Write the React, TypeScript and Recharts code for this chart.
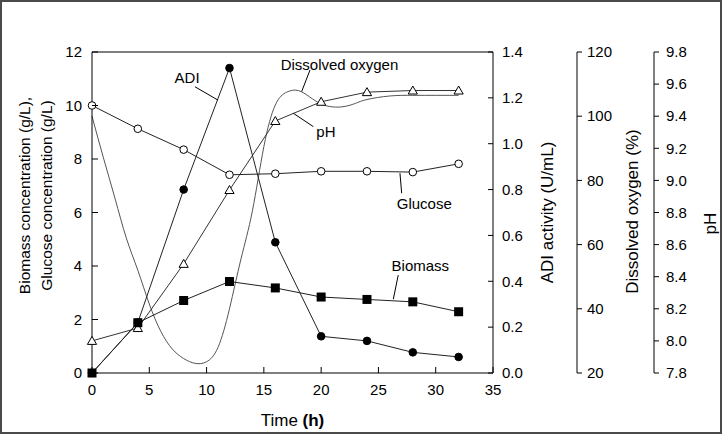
import React from "react";
import { LineChart, Line, XAxis, YAxis, ReferenceLine, ReferenceDot } from "recharts";

// sampling times (h) and measured series
const times = [0, 4, 8, 12, 16, 20, 24, 28, 32];
const biomass = [0, 1.88, 2.71, 3.42, 3.18, 2.84, 2.75, 2.66, 2.29];
const glucose = [10.0, 9.13, 8.35, 7.41, 7.45, 7.54, 7.54, 7.51, 7.82];
const adi = [0, 0.22, 0.8, 1.33, 0.57, 0.16, 0.14, 0.09, 0.07];
const ph = [8.0, 8.08, 8.48, 8.94, 9.37, 9.49, 9.55, 9.56, 9.56];

// online dissolved oxygen trace
const doTimes = [0, 1, 2, 3, 4, 5, 6, 7, 8, 9, 10, 11, 12, 13, 14, 15, 16, 17, 18, 19, 20, 21, 22, 23, 24, 26, 28, 30, 32];
const doValues = [100, 87, 74.5, 62, 52, 41.5, 33, 27.5, 24.5, 23, 23.5, 28, 40, 55.5, 70.5, 90.5, 103.5, 107.5, 108, 106, 103.8, 102.9, 103, 104, 105.2, 106.3, 106.5, 106.5, 106.5];

const timeTicks = [0, 5, 10, 15, 20, 25, 30, 35];
const leftTicks = [0, 2, 4, 6, 8, 10, 12];
const adiTicks = [0, 0.2, 0.4, 0.6, 0.8, 1.0, 1.2, 1.4];
const doTicks = [20, 40, 60, 80, 100, 120];
const phTicks = [7.8, 8.0, 8.2, 8.4, 8.6, 8.8, 9.0, 9.2, 9.4, 9.6, 9.8];

// series names written on the plot, anchored in (time, g/L) units
const callouts = [
  { text: "ADI", x: 8.3, y: 11.03, from: [8.99, 10.7], to: [11.0, 10.2] },
  { text: "Dissolved oxygen", x: 21.6, y: 11.51, from: [19.03, 11.33], to: [18.3, 10.52] },
  { text: "pH", x: 20.42, y: 9.02, from: [19.32, 9.21], to: [17.57, 9.71] },
  { text: "Glucose", x: 29.0, y: 6.34, from: [27.03, 6.72], to: [26.88, 7.47] },
  { text: "Biomass", x: 28.66, y: 4.0, from: [26.73, 3.66], to: [26.3, 2.76] },
];

const FONT = "'Liberation Sans', Arial, Helvetica, sans-serif";

const sampleRows = times.map((t, i) => ({
  t,
  biomass: biomass[i],
  glucose: glucose[i],
  adi: adi[i],
  ph: ph[i],
}));
const doRows = doTimes.map((t, i) => ({ t, dox: doValues[i] }));

type Side = "left" | "right-in" | "right-out" | "bottom";

function makeTick(side: Side, len: number, gap: number, fmt: (v: number) => string) {
  return (p: any) => {
    const { x, y, payload } = p;
    const label = fmt(payload.value);
    const txt = { fontFamily: FONT, fontSize: 15, fill: "#000" };
    if (side === "bottom") {
      return (
        <g>
          <line x1={x} y1={y} x2={x} y2={y - len} stroke="#000" />
          <text x={x} y={y + gap} textAnchor="middle" dy="0.35em" {...txt}>{label}</text>
        </g>
      );
    }
    if (side === "left") {
      return (
        <g>
          <line x1={x} y1={y} x2={x + len} y2={y} stroke="#000" />
          <text x={x - gap} y={y} textAnchor="end" dy="0.35em" {...txt}>{label}</text>
        </g>
      );
    }
    const dir = side === "right-in" ? -1 : 1;
    return (
      <g>
        <line x1={x} y1={y} x2={x + dir * len} y2={y} stroke="#000" />
        <text x={x + gap} y={y} textAnchor="start" dy="0.35em" {...txt}>{label}</text>
      </g>
    );
  };
}

const vTitle = (lines: string[], dx: number[], dyCenter: number, size: number) => (p: any) => {
  const vb = p.viewBox || {};
  const cy = vb.y + vb.height / 2 + dyCenter;
  return (
    <g>
      {lines.map((s, i) => {
        const cx = vb.x + dx[i];
        return (
          <text
            key={s}
            x={cx}
            y={cy}
            transform={`rotate(-90 ${cx} ${cy})`}
            textAnchor="middle"
            dy="0.35em"
            fontFamily={FONT}
            fontSize={size}
            fill="#000"
          >
            {s}
          </text>
        );
      })}
    </g>
  );
};

const timeTitle = (p: any) => {
  const vb = p.viewBox || {};
  return (
    <text
      x={vb.x + vb.width / 2}
      y={vb.y + 47}
      textAnchor="middle"
      dy="0.35em"
      fontFamily={FONT}
      fontSize={17}
      fill="#000"
    >
      Time <tspan fontWeight="bold">(h)</tspan>
    </text>
  );
};

const squareDot = (p: any) => (
  <rect key={`s${p.index}`} x={p.cx - 4.5} y={p.cy - 4.5} width={9} height={9} fill="#000" />
);
const triangleDot = (p: any) => (
  <polygon
    key={`t${p.index}`}
    points={`${p.cx},${p.cy - 4.5} ${p.cx - 4.6},${p.cy + 3.5} ${p.cx + 4.6},${p.cy + 3.5}`}
    fill="#fff"
    stroke="#000"
    strokeWidth={1}
  />
);

export default function App() {
  return (
    <div style={{ position: "absolute", left: 0, top: 0, width: 722, height: 434, background: "#fff" }}>
      <LineChart
        width={722}
        height={434}
        data={sampleRows}
        margin={{ top: 52, right: 0, bottom: 0, left: 0 }}
      >
        <XAxis
          dataKey="t"
          type="number"
          domain={[0, 35]}
          ticks={timeTicks}
          height={61}
          tickSize={0}
          tickMargin={0}
          tickLine={false}
          axisLine={{ stroke: "#000" }}
          tick={makeTick("bottom", 6, 17, (v) => String(v))}
          label={timeTitle}
        />
        <YAxis
          yAxisId="left"
          domain={[0, 12]}
          ticks={leftTicks}
          width={92}
          tickSize={0}
          tickMargin={0}
          tickLine={false}
          axisLine={{ stroke: "#000" }}
          tick={makeTick("left", 6, 10, (v) => String(v))}
          label={vTitle(["Biomass concentration (g/L),", "Glucose concentration (g/L)"], [25, 47], -17, 15.5)}
        />
        <YAxis
          yAxisId="adi"
          orientation="right"
          domain={[0, 1.4]}
          ticks={adiTicks}
          width={84}
          tickSize={0}
          tickMargin={0}
          tickLine={false}
          axisLine={{ stroke: "#000" }}
          tick={makeTick("right-in", 5, 9, (v) => v.toFixed(1))}
          label={vTitle(["ADI activity (U/mL)"], [54], 0, 17)}
        />
        <YAxis
          yAxisId="do"
          orientation="right"
          domain={[20, 120]}
          ticks={doTicks}
          width={77}
          tickSize={0}
          tickMargin={0}
          tickLine={false}
          axisLine={{ stroke: "#000" }}
          tick={makeTick("right-out", 5, 10, (v) => String(v))}
          label={vTitle(["Dissolved oxygen (%)"], [55], -1, 17)}
        />
        <YAxis
          yAxisId="ph"
          orientation="right"
          domain={[7.8, 9.8]}
          ticks={phTicks}
          width={68}
          tickSize={0}
          tickMargin={0}
          tickLine={false}
          axisLine={{ stroke: "#000" }}
          tick={makeTick("right-out", 5, 12, (v) => v.toFixed(1))}
          label={vTitle(["pH"], [56], 11, 17)}
        />

        <ReferenceLine yAxisId="left" y={12} stroke="#000" />

        <Line
          data={doRows}
          yAxisId="do"
          dataKey="dox"
          type="natural"
          stroke="#555"
          strokeWidth={1}
          dot={false}
          activeDot={false}
          isAnimationActive={false}
        />
        <Line
          yAxisId="ph"
          dataKey="ph"
          type="linear"
          stroke="#333"
          strokeWidth={1}
          dot={triangleDot}
          activeDot={false}
          isAnimationActive={false}
        />
        <Line
          yAxisId="left"
          dataKey="glucose"
          type="linear"
          stroke="#222"
          strokeWidth={1}
          dot={{ r: 3.8, fill: "#fff", stroke: "#000", strokeWidth: 1 }}
          activeDot={false}
          isAnimationActive={false}
        />
        <Line
          yAxisId="left"
          dataKey="biomass"
          type="linear"
          stroke="#222"
          strokeWidth={1}
          dot={squareDot}
          activeDot={false}
          isAnimationActive={false}
        />
        <Line
          yAxisId="adi"
          dataKey="adi"
          type="linear"
          stroke="#222"
          strokeWidth={1}
          dot={{ r: 3.8, fill: "#000", stroke: "#000", strokeWidth: 1 }}
          activeDot={false}
          isAnimationActive={false}
        />

        {callouts.map((c) => (
          <ReferenceLine
            key={`l-${c.text}`}
            yAxisId="left"
            segment={[
              { x: c.from[0], y: c.from[1] },
              { x: c.to[0], y: c.to[1] },
            ]}
            stroke="#000"
            strokeWidth={1}
          />
        ))}
        {callouts.map((c) => (
          <ReferenceDot
            key={`t-${c.text}`}
            yAxisId="left"
            x={c.x}
            y={c.y}
            r={0}
            shape={(p: any) => (
              <text
                x={p.cx}
                y={p.cy}
                textAnchor="middle"
                dy="0.35em"
                fontFamily={FONT}
                fontSize={15}
                fill="#000"
              >
                {c.text}
              </text>
            )}
          />
        ))}
      </LineChart>
      <div
        style={{
          position: "absolute",
          left: 0,
          top: 0,
          width: 722,
          height: 434,
          boxSizing: "border-box",
          border: "2px solid #4a4a4a",
          pointerEvents: "none",
        }}
      />
    </div>
  );
}
